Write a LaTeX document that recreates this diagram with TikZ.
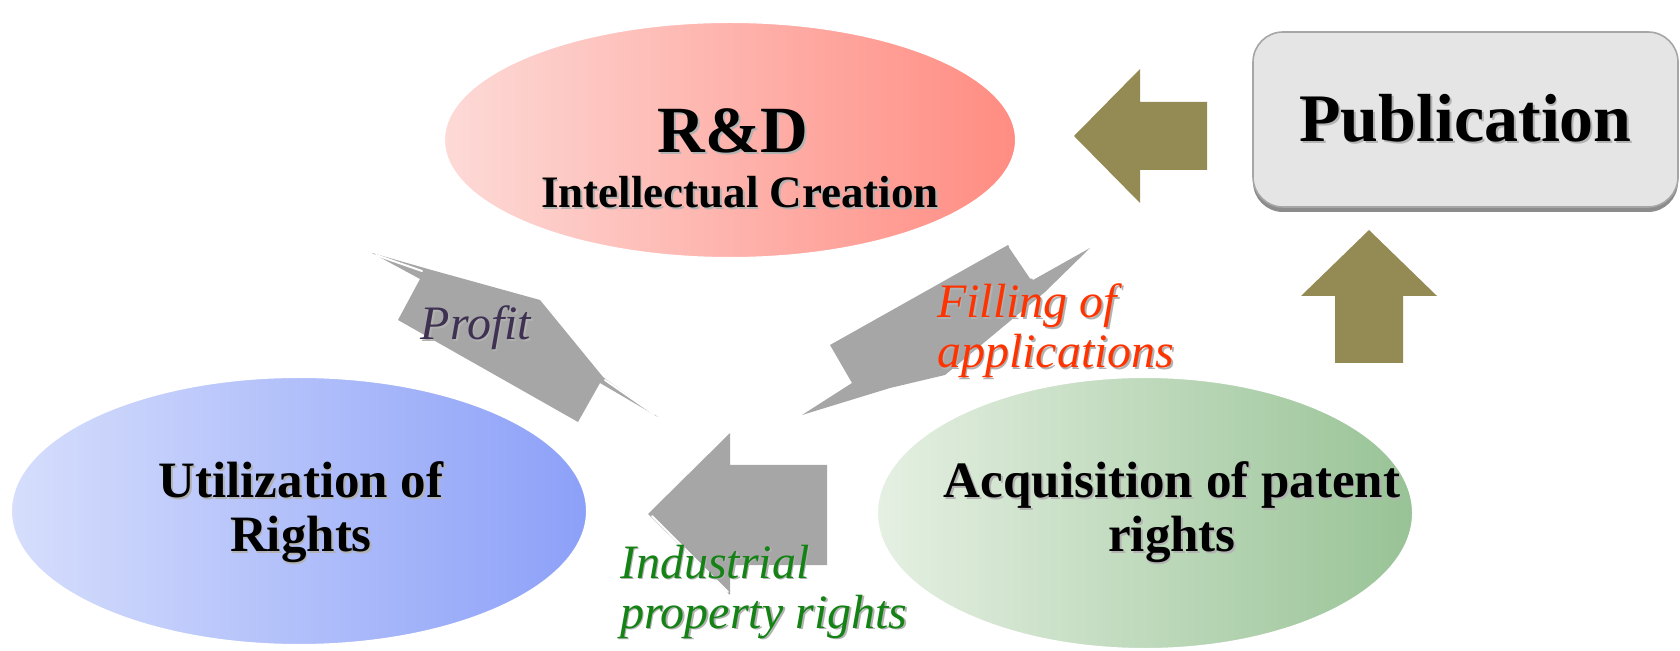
\documentclass[tikz,border=0pt]{standalone}
\usepackage{fontspec}
\setmainfont{Liberation Serif}
\usetikzlibrary{shapes.geometric,shadows,positioning}

\definecolor{rdleft}{RGB}{253,218,215}
\definecolor{rdright}{RGB}{255,140,130}
\definecolor{utleft}{RGB}{214,222,252}
\definecolor{utright}{RGB}{140,160,248}
\definecolor{acleft}{RGB}{229,240,226}
\definecolor{acright}{RGB}{152,195,150}
\definecolor{tanarrow}{RGB}{148,138,84}
\definecolor{grayarrow}{RGB}{166,166,166}
\definecolor{profitcol}{RGB}{63,49,81}
\definecolor{filingcol}{RGB}{255,51,0}
\definecolor{industcol}{RGB}{20,130,20}

\newcommand{\withshadow}[1]{\makebox[0pt][l]{\hspace{0.9pt}\raisebox{-0.9pt}{\textcolor{black!30}{#1}}}#1}

\begin{document}
\begin{tikzpicture}[x=0.5pt,y=-0.5pt]
\tikzstyle{bubble}=[ellipse, inner sep=0pt, draw=white, line width=1pt]
\tikzstyle{bigtitle}=[font=\fontsize{33}{38}\selectfont\bfseries, anchor=base]
\tikzstyle{maintext}=[font=\fontsize{25.5}{27}\selectfont\bfseries, align=center, anchor=base]
\tikzstyle{tag}=[font=\fontsize{24}{25}\selectfont\itshape, align=left, anchor=base west]
\tikzstyle{gloss}=[draw=white, line width=1pt, line cap=round]
\tikzset{pubbox/.style={rectangle, rounded corners=15pt, minimum width=212.5pt, minimum height=87.5pt, fill=black!10, draw=black!35, line width=0.8pt, drop shadow={shadow xshift=0pt, shadow yshift=-2.5pt, fill=black!45, opacity=1}}}
\useasboundingbox (0,0) rectangle (1680,651);

% the three stages
\node [bubble, minimum width=286pt, minimum height=118pt, left color=rdleft, right color=rdright] (RD) at (730,140) {};
\node [bubble, minimum width=288pt, minimum height=134pt, left color=utleft, right color=utright] (UTIL) at (299,511) {};
\node [bubble, minimum width=268pt, minimum height=136pt, left color=acleft, right color=acright] (ACQ) at (1145,513) {};
\node [pubbox, font=\fontsize{34}{38}\selectfont\bfseries] (PUB) at (1465.5,119.5) {\withshadow{Publication}};

\node [bigtitle] (RDtitle) at (733,153) {\withshadow{R\&D}};
\node [maintext, font=\fontsize{22.5}{27}\selectfont\bfseries] (RDsub) at (740,208) {\withshadow{Intellectual Creation}};
\node [maintext] (UTILtext) at (301,552) {\withshadow{Utilization of}\\\withshadow{Rights}};
\node [maintext] (ACQtext) at (1172,552) {\withshadow{Acquisition of patent}\\\withshadow{rights}};

% block arrows
\fill [tanarrow] (1074,136) -- (1140,69) -- (1140,102) -- (1207,102) -- (1207,170) -- (1140,170) -- (1140,203) -- cycle;
\fill [tanarrow] (1369,230) -- (1437,296) -- (1403,296) -- (1403,363) -- (1335,363) -- (1335,296) -- (1301,296) -- cycle;
\fill [grayarrow] (648,514) -- (730,433) -- (730,465) -- (827,465) -- (827,565) -- (730,565) -- (730,595) -- cycle;
\fill [grayarrow] (372,253) -- (428,269) -- (540,300) -- (603,377) -- (658,417) -- (600,383) -- (578,422) -- (398,320) -- (420,279) -- cycle;
\fill [grayarrow] (802,415) -- (852,383) -- (830,345) -- (1008,245) -- (1033,280) -- (1090,248) -- (1045,292) -- (945,375) -- (890,388) -- cycle;
\draw [gloss] (652,516) -- (728,592);
\draw [gloss] (376,255) -- (422,271);
\draw [gloss] (605,380) -- (654,414);
\draw [gloss] (1010,247) -- (1031,278);

% arrow labels
\node [tag, anchor=base, text=profitcol] (profit) at (476,340) {\withshadow{Profit}};
\node [tag, text=filingcol] (filing) at (930,368) {\withshadow{Filling of}\\\withshadow{applications}};
\node [tag, text=industcol] (indust) at (613,628) {\withshadow{Industrial}\\\withshadow{property rights}};
\end{tikzpicture}
\end{document}
